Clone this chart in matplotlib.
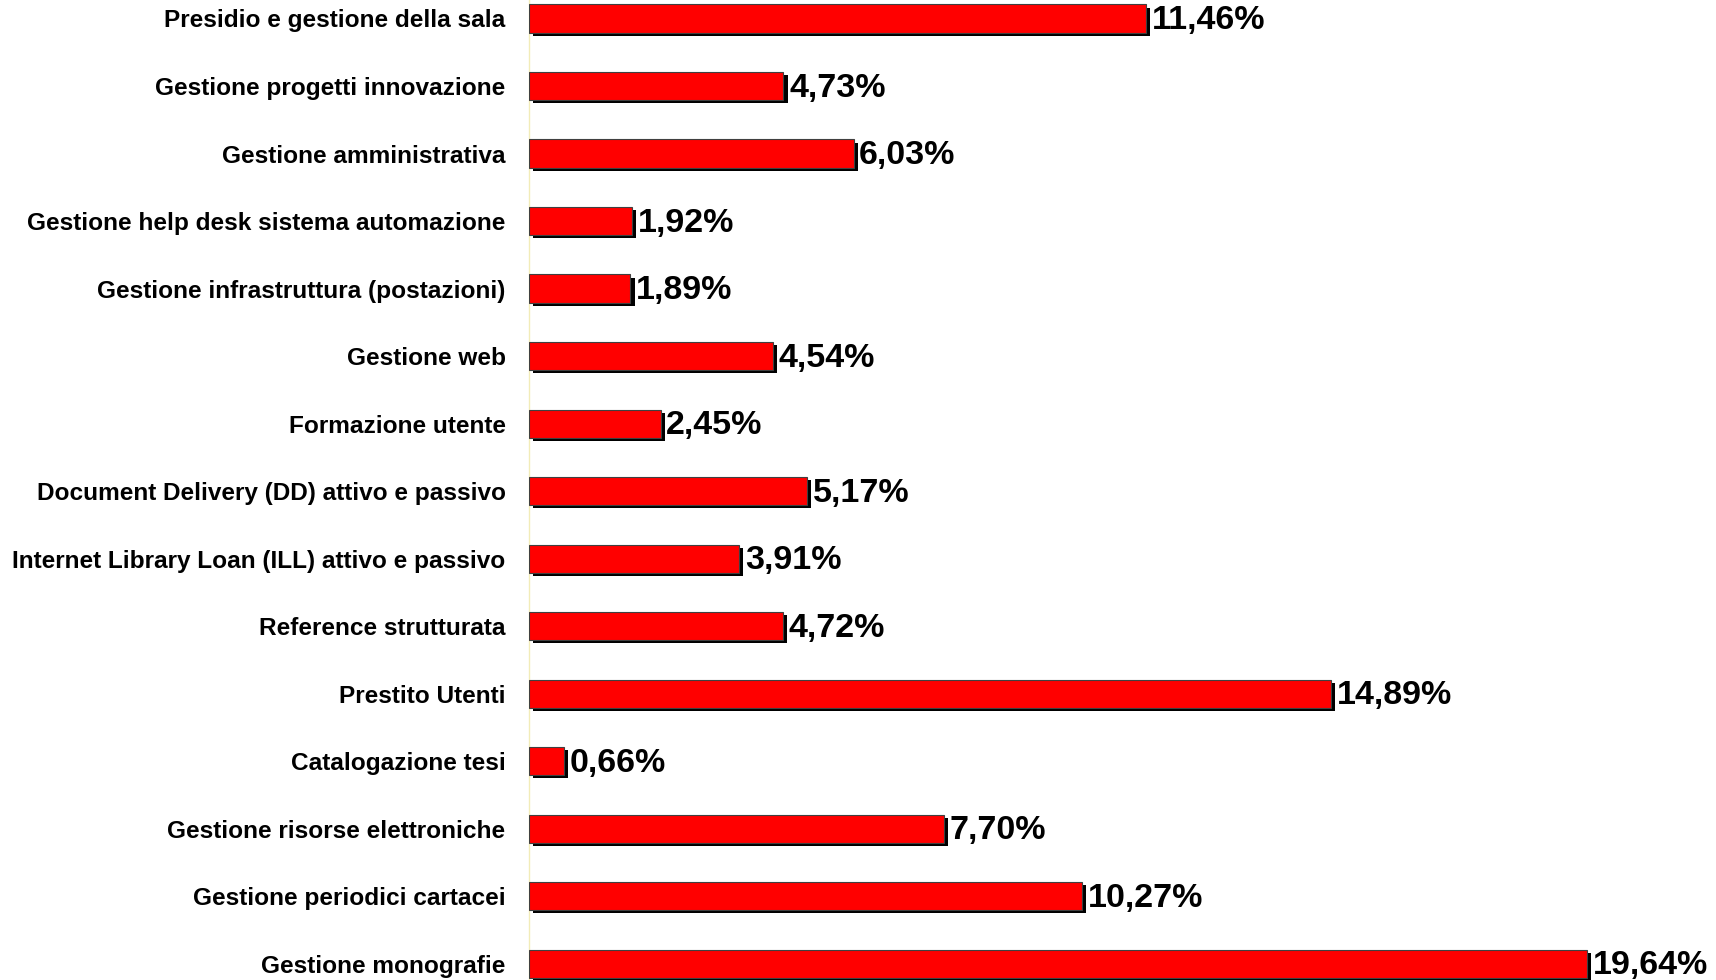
import matplotlib.pyplot as plt
import matplotlib.patheffects as pe
import numpy as np

plt.rcParams['font.family'] = ['Liberation Sans', 'DejaVu Sans']

# Activity share by service (percent)
categories = [
    'Presidio e gestione della sala',
    'Gestione progetti innovazione',
    'Gestione amministrativa',
    'Gestione help desk sistema automazione',
    'Gestione infrastruttura (postazioni)',
    'Gestione web',
    'Formazione utente',
    'Document Delivery (DD) attivo e passivo',
    'Internet Library Loan (ILL) attivo e passivo',
    'Reference strutturata',
    'Prestito Utenti',
    'Catalogazione tesi',
    'Gestione risorse elettroniche',
    'Gestione periodici cartacei',
    'Gestione monografie',
]
shares = [11.46, 4.73, 6.03, 1.92, 1.89, 4.54, 2.45, 5.17, 3.91, 4.72,
          14.89, 0.66, 7.70, 10.27, 19.64]

fig = plt.figure(figsize=(17.16, 9.8), dpi=100)
ax = fig.add_axes([528.5 / 1716, 0, 1 - 528.5 / 1716, 1])

y = np.arange(len(categories))
bars = ax.barh(y, shares, height=0.415, color='#ff0000', edgecolor='#404040',
               linewidth=0.8, zorder=3)
# drop shadow down-right of each bar
for b in bars:
    b.set_path_effects([pe.SimplePatchShadow(offset=(3, -2.2), shadow_rgbFace='black', alpha=1.0),
                        pe.Normal()])

for b, v in zip(bars, shares):
    ax.annotate(f'{v:.2f}'.replace('.', ',') + '%',
                xy=(b.get_width(), b.get_y() + b.get_height() / 2),
                xytext=(4, 0.8), textcoords='offset points',
                ha='left', va='center_baseline', fontsize=24.5, fontweight='bold', zorder=4)

ax.set_xlim(0, 1187.5 / 53.9)
ax.set_ylim(14.244, -0.274)
ax.set_yticks(y)
ax.set_yticklabels(categories, fontsize=17.6, fontweight='bold')
ax.tick_params(axis='y', length=0, pad=16.5)
ax.set_xticks([])

for side in ['top', 'right', 'bottom']:
    ax.spines[side].set_visible(False)
ax.spines['left'].set_color('#f2ecb8')
ax.spines['left'].set_linewidth(1.0)

fig.savefig('out.png', dpi=100)
